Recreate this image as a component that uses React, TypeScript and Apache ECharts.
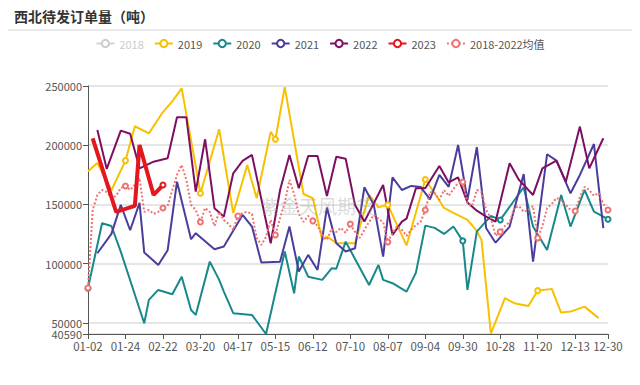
import React, { useEffect, useRef } from "react";
import * as echarts from "echarts";

const categories = [
  "01-02","01-05","01-07","01-10","01-13","01-16","01-18","01-21",
  "01-24","01-28","01-31","02-04","02-07","02-11","02-15","02-18",
  "02-22","02-25","02-28","03-03","03-06","03-09","03-13","03-16",
  "03-20","03-24","03-27","03-31","04-03","04-07","04-10","04-14",
  "04-17","04-21","04-24","04-28","05-01","05-05","05-08","05-12",
  "05-15","05-19","05-22","05-26","05-29","06-02","06-05","06-09",
  "06-12","06-16","06-19","06-23","06-26","06-30","07-03","07-07",
  "07-10","07-14","07-17","07-21","07-24","07-28","07-31","08-04",
  "08-07","08-11","08-14","08-18","08-21","08-25","08-28","09-01",
  "09-04","09-07","09-10","09-14","09-17","09-20","09-23","09-27",
  "09-30","10-04","10-07","10-11","10-14","10-18","10-21","10-25",
  "10-28","10-31","11-02","11-05","11-08","11-11","11-14","11-17",
  "11-20","11-23","11-25","11-28","12-01","12-04","12-07","12-10",
  "12-13","12-15","12-18","12-20","12-23","12-25","12-27","12-30",
];

const yMin = 40590;
const yMax = 250000;
const yTicks = [50000, 100000, 150000, 200000, 250000];

// [category index, value]
const s2018: [number, number][] = [];
const s2019: [number, number][] = [
  [0,178000],[2,185000],[5,162000],[8,187000],[10,216000],[13,210000],[16,228000],[18,237000],
  [20,248000],[23,182000],[24,159500],[28,213500],[31,142600],[34,183300],[36,155200],[39,211400],
  [40,205000],[42,249000],[46,158800],[48,155200],[50,120000],[51,122800],[53,117500],[57,117200],
  [60,158000],[62,147500],[64,149600],[68,115400],[72,171100],[74,159400],[76,147000],[78,142800],
  [81,136900],[83,127600],[84,120000],[86,41000],[89,70800],[91,66600],[94,64300],[96,77200],
  [99,78700],[101,58700],[103,59500],[106,63700],[109,54000],
];
const s2020: [number, number][] = [
  [0,79300],[3,134100],[5,131800],[7,110100],[12,49700],[13,69400],[15,77800],[18,74200],
  [20,89000],[22,60900],[23,56700],[26,101700],[28,86300],[29,76400],[31,58200],[35,56700],
  [38,40600],[42,110200],[44,75000],[45,106000],[47,89000],[50,86300],[52,96100],[53,95700],
  [55,118600],[60,82000],[62,98900],[63,86300],[65,83500],[68,76400],[70,92400],[72,132100],
  [74,130200],[76,125100],[78,131300],[80,119200],[81,77800],[83,127000],[86,140300],[88,136900],
  [93,164500],[95,131300],[98,111600],[101,158000],[103,131300],[106,162200],[108,143900],[111,137500],
];
const s2021: [number, number][] = [
  [2,108800],[5,125100],[7,149600],[9,128200],[11,151300],[12,109500],[15,98900],[17,111300],
  [19,169200],[22,120600],[23,125700],[27,112200],[29,114400],[33,141100],[35,131300],[37,100900],
  [41,101700],[43,131300],[45,93300],[47,107400],[49,94700],[51,147300],[53,117200],[55,110200],
  [57,113000],[59,164500],[61,149600],[63,105900],[65,172900],[67,162200],[69,165600],[71,164800],
  [73,154200],[75,174900],[77,164800],[79,200200],[81,153800],[83,198300],[85,129900],[87,117700],
  [90,131300],[93,175700],[95,101700],[98,192400],[100,187000],[103,159400],[105,174900],[108,201000],
  [110,129900],
];
const s2022: [number, number][] = [
  [2,212900],[4,180000],[7,212300],[9,209700],[11,180500],[14,186100],[17,189000],[19,223600],
  [21,223600],[23,160800],[25,205000],[27,146800],[29,139700],[31,176300],[33,186700],[35,191800],
  [39,117200],[41,162200],[43,191800],[45,163700],[47,190900],[49,190900],[51,157200],[53,190300],
  [55,188600],[57,149600],[59,135500],[63,166400],[65,124200],[67,135500],[68,138000],[70,163700],
  [72,163700],[75,182500],[77,168600],[79,172900],[81,151700],[83,144700],[85,139700],[87,135500],
  [90,184800],[92,170700],[95,158000],[97,180500],[100,187000],[102,169200],[105,215700],[107,180500],
  [110,205900],
];
const s2023: [number, number][] = [
  [1,205800],[6,143700],[10,148700],[11,200200],[14,158000],[16,166400],
];
const mean1822: number[] = [
  79500,145300,158000,162200,160500,155500,157200,163900,
  165600,162200,166400,172400,143700,145300,142000,143700,
  147000,148700,162200,174900,183300,170700,149600,145300,
  135200,147000,143700,131800,143700,136900,133500,128500,
  140300,142800,143700,142000,121700,115800,122600,136900,
  124200,138600,151300,170700,158800,142000,135200,140300,
  136100,131800,124200,120000,129300,126800,130200,126000,
  133500,126800,121700,128500,135200,141100,137800,135200,
  118300,126000,131800,128500,123400,128500,132700,135200,
  145300,160500,159600,153800,162200,157200,163100,168100,
  169000,151300,148700,162200,160500,145300,138600,123400,
  126800,131800,135200,147000,148700,143700,145300,148700,
  121700,131800,147000,150400,155500,153800,149600,145300,
  144500,156300,164800,162200,157200,159700,150400,145300,
];

const seriesNames = ["2018", "2019", "2020", "2021", "2022", "2023", "2018-2022均值"];
const seriesColors = ["#c8c8c8", "#f7c100", "#17898b", "#4a3d9c", "#7d0f62", "#e3171d", "#f07272"];
// label positions at which a series shows no marker
const hiddenMarks: number[][] = [[], [0, 16, 48], [72], [], [72], [], []];

function expand(pairs: [number, number][]): (number | null)[] {
  const arr: (number | null)[] = categories.map(() => null);
  pairs.forEach(([i, v]) => {
    arr[i] = v;
  });
  return arr;
}

const FONT = "'Noto Sans CJK SC', 'Noto Sans', sans-serif";

export default function App() {
  const ref = useRef<HTMLDivElement>(null);
  useEffect(() => {
    if (!ref.current) return;
    const chart = echarts.init(ref.current, undefined, { renderer: "svg" });
    const last = categories.length - 1;
    const showLabel = (i: number) => i % 8 === 0 || i === last;
    const data: (number | null)[][] = [s2018, s2019, s2020, s2021, s2022, s2023].map(expand);
    data.push(mean1822);
    const series: any[] = seriesNames.map((name, k) => ({
      name,
      type: "line",
      yAxisIndex: 0,
      data: data[k].map((v, i) =>
        v != null && hiddenMarks[k].indexOf(i) >= 0 ? { value: v, symbol: "none" } : v
      ),
      connectNulls: true,
      symbol: "emptyCircle",
      symbolSize: 5,
      showAllSymbol: "auto",
      z: k === 5 ? 5 : 2,
      lineStyle: {
        width: k === 5 ? 4 : 2,
        type: k === 6 ? "dotted" : "solid",
        color: seriesColors[k],
      },
      itemStyle: { color: seriesColors[k], borderWidth: k === 5 ? 2 : 1 },
      emphasis: { disabled: true },
    }));
    const yLabel = {
      color: "#555",
      fontSize: 11,
      margin: 6,
      fontFamily: FONT,
      hideOverlap: false,
      formatter: (v: number) => String(Math.round(v)),
    };
    chart.setOption({
      animation: false,
      color: seriesColors,
      textStyle: { fontFamily: FONT },
      title: {
        text: "西北待发订单量（吨）",
        left: 9,
        top: 4,
        textStyle: { fontSize: 14, fontWeight: "bold", color: "#333", fontFamily: FONT },
      },
      legend: {
        top: 33,
        left: "center",
        data: seriesNames,
        selected: { "2018": false },
        itemWidth: 18,
        itemHeight: 9,
        itemGap: 10,
        textStyle: { fontSize: 11, color: "#555", fontFamily: FONT },
        inactiveColor: "#ccc",
      },
      graphic: [
        {
          type: "line",
          shape: { x1: 8, y1: 30, x2: 632, y2: 30 },
          style: { stroke: "#d6d6d6", lineWidth: 1 },
          silent: true,
        },
        {
          type: "text",
          x: 318,
          y: 205,
          style: {
            text: "紫金天风期货",
            fontSize: 19,
            fontFamily: FONT,
            fill: "rgba(150,150,150,0.35)",
            align: "center",
            verticalAlign: "middle",
          },
          z: 100,
          silent: true,
        },
      ],
      grid: { left: 88, right: 32, top: 86, bottom: 51 },
      xAxis: {
        type: "category",
        data: categories,
        boundaryGap: false,
        axisLine: { show: true, lineStyle: { color: "#555" } },
        axisTick: { show: true, interval: (i: number) => showLabel(i), length: 5, lineStyle: { color: "#555" } },
        axisLabel: {
          interval: (i: number) => showLabel(i),
          color: "#555",
          fontSize: 11.5,
          margin: 6,
          fontFamily: FONT,
        },
        splitLine: { show: false },
      },
      yAxis: [
        {
          type: "value",
          position: "left",
          min: yMin,
          max: yMax,
          axisLine: { show: true, lineStyle: { color: "#555" } },
          axisTick: { show: true, length: 5, customValues: [yMin, ...yTicks], lineStyle: { color: "#555" } },
          axisLabel: { ...yLabel, customValues: yTicks, padding: [0, 0, 2, 0] },
          splitLine: { show: true, lineStyle: { color: "#dedede", width: 1.5 } },
        },
        {
          type: "value",
          position: "left",
          offset: 0,
          min: yMin,
          max: yMax,
          axisLine: { show: false },
          axisTick: { show: false },
          axisLabel: { ...yLabel, customValues: [yMin], padding: [2, 0, 0, 0] },
          splitLine: { show: false },
        },
      ],
      series,
    });
    return () => chart.dispose();
  }, []);
  return <div ref={ref} style={{ width: 640, height: 385, margin: -8 }} />;
}
